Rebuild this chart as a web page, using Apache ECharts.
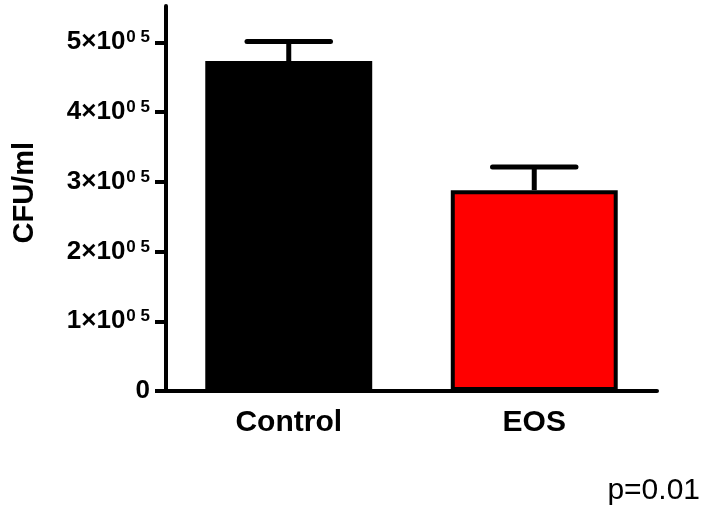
<!DOCTYPE html>
<html>
<head>
<meta charset="utf-8">
<script src="https://cdn.jsdelivr.net/npm/echarts@6/dist/echarts.min.js"></script>
<style>
html,body{margin:0;padding:0;background:#fff;}
#c{width:707px;height:508px;}
</style>
</head>
<body>
<div id="c"></div>
<script>
const categories = ['Control', 'EOS'];
const means = [473000, 288000];
const errorUpper = [501000, 321000];
const barColors = ['#000000', '#ff0000'];
const yTicks = [0, 100000, 200000, 300000, 400000, 500000];
const yMax = 552000;
const yTitle = 'CFU/ml';
const pText = 'p=0.01';

const chart = echarts.init(document.getElementById('c'), null, {renderer: 'canvas'});
const font = 'Liberation Sans, Arial, Helvetica, sans-serif';

chart.setOption({
  animation: false,
  textStyle: {fontFamily: font},
  grid: {left: 166, right: 50, top: 6, bottom: 117, outerBoundsMode: 'none', containLabel: false},
  xAxis: {
    type: 'category',
    data: categories,
    axisLine: {lineStyle: {color: '#000', width: 4}},
    axisTick: {alignWithLabel: true, length: 11, lineStyle: {color: '#000', width: 4}},
    axisLabel: {color: '#000', fontSize: 30, fontWeight: 'bold', margin: 17, fontFamily: font},
    splitLine: {show: false}
  },
  yAxis: {
    type: 'value',
    min: 0,
    max: yMax,
    axisLine: {show: true, lineStyle: {color: '#000', width: 4}},
    axisTick: {show: true, customValues: yTicks, length: 11, lineStyle: {color: '#000', width: 4}},
    splitLine: {show: false},
    axisLabel: {
      customValues: yTicks,
      margin: 16,
      color: '#000',
      fontFamily: font,
      formatter: function (v) {
        if (v === 0) return '{b|0}';
        return '{b|' + (v / 100000) + '×10}{s|0 5}';
      },
      rich: {
        b: {fontSize: 26, fontWeight: 'bold', color: '#000', fontFamily: font, lineHeight: 26},
        s: {fontSize: 17, fontWeight: 'bold', color: '#000', fontFamily: font, verticalAlign: 'top', lineHeight: 26, padding: [0, 0, 0, 1]}
      }
    }
  },
  graphic: [
    {
      type: 'text', left: 10, top: 142, rotation: Math.PI / 2,
      style: {text: yTitle, font: 'bold 29px ' + font, fill: '#000'}
    },
    {
      type: 'text', right: 7, bottom: 2,
      style: {text: pText, font: '30px ' + font, fill: '#000'}
    }
  ],
  series: [
    {
      type: 'custom',
      z: 1,
      renderItem: function (params, api) {
        const i = api.value(0);
        const top = api.coord([i, api.value(2)]);
        const base = api.coord([i, api.value(1)]);
        const bw = api.size([1, 0])[0];
        const half = bw * 0.17;
        return {
          type: 'group',
          children: [
            {type: 'line', shape: {x1: base[0], y1: base[1], x2: top[0], y2: top[1]}, style: {stroke: '#000', lineWidth: 5}},
            {type: 'line', shape: {x1: top[0] - half, y1: top[1], x2: top[0] + half, y2: top[1]}, style: {stroke: '#000', lineWidth: 5, lineCap: 'round'}}
          ]
        };
      },
      data: categories.map((c, i) => [i, means[i], errorUpper[i]])
    },
    {
      type: 'bar',
      z: 2,
      barWidth: '68%',
      data: means.map((v, i) => ({value: v, itemStyle: {color: barColors[i], borderColor: '#000', borderWidth: 4}}))
    }
  ]
});
</script>
</body>
</html>
